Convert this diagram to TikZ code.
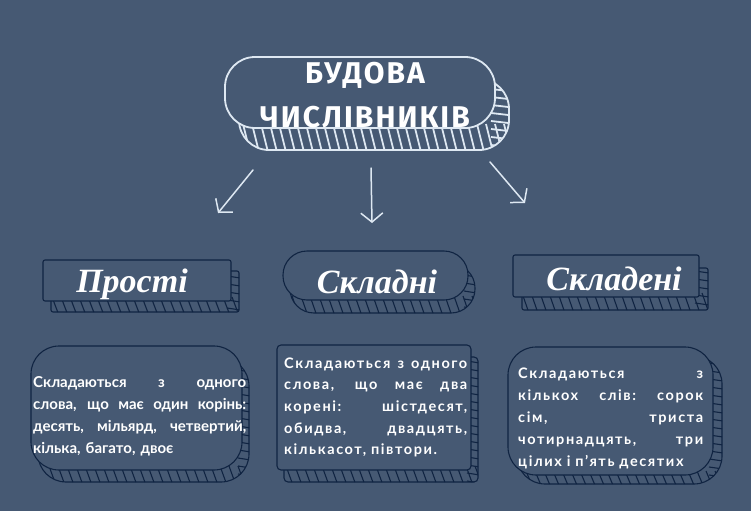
\documentclass[tikz,border=0pt]{standalone}
\usepackage{fontspec}
\setmainfont{Lato}
\newfontfamily\titlefont[LetterSpace=7]{Fira Sans}
\newfontfamily\headfont{Liberation Serif}
\newfontfamily\widefont[LetterSpace=11]{Lato}
\usetikzlibrary{arrows.meta}
\definecolor{boardBg}{RGB}{70,89,115}
\definecolor{chalk}{RGB}{222,232,242}
\definecolor{ink}{RGB}{16,36,66}
\tikzset{
  chalkArrow/.style={%
    draw=chalk, line width=1.5pt, line cap=round,
    -{Straight Barb[length=9pt,width=22pt]},
  },
  titleNode/.style={text=white, anchor=base, inner sep=0pt,
    font=\titlefont\bfseries\fontsize{30}{32}\selectfont},
  headNode/.style={text=white, anchor=base, inner sep=0pt,
    font=\headfont\bfseries\itshape\fontsize{34}{36}\selectfont},
  bodyNode/.style={text=white, anchor=base west, inner sep=0pt, align=left},
}
% box with a hatched side, front corner at (#2,#3)-(#4,#5), shifted back by (#6,#7)
\newcommand{\slabbox}[7]{%
  \draw[rounded corners=#1] (#2+#6,#3+#7) rectangle (#4+#6,#5+#7);
  \begin{scope}
    \clip[rounded corners=#1] (#2+#6,#3+#7) rectangle (#4+#6,#5+#7);
    \foreach \t in {0,...,40}
      \draw ({#2+9*\t},#5-4) -- ++(8,#7+10);
    \foreach \t in {0,...,20}
      \draw (#4-4,{#3+8*\t}) -- ++(#6+12,3);
  \end{scope}
  \fill[boardBg,rounded corners=#1] (#2,#3) rectangle (#4,#5);
  \draw[rounded corners=#1] (#2,#3) rectangle (#4,#5);
}
\newcommand{\spread}[1]{\makebox[\hsize][s]{%
  \spaceskip=.3em plus 1fil\xspaceskip=\spaceskip\relax #1}}

\begin{document}
\begin{tikzpicture}[x=1pt,y=-1pt]
  \fill[boardBg] (0,0) rectangle (751,511);
  \useasboundingbox (0,0) rectangle (751,511);

  % title
  \begin{scope}[draw=chalk,line width=1.8pt]
    \slabbox{30}{225}{57}{495}{128}{14}{22}
  \end{scope}
  \node[titleNode] (title1) at (365,83) {БУДОВА};
  \node[titleNode] (title2) at (365,127) {ЧИСЛІВНИКІВ};

  % arrows
  \coordinate (arrL0) at (253,170);
  \coordinate (arrL1) at (218,213);
  \coordinate (arrM0) at (371,168);
  \coordinate (arrM1) at (372,223);
  \coordinate (arrR0) at (490,162);
  \coordinate (arrR1) at (525,203);
  \draw[chalkArrow] (arrL0) -- (arrL1);
  \draw[chalkArrow] (arrM0) -- (arrM1);
  \draw[chalkArrow] (arrR0) -- (arrR1);

  % heads
  \begin{scope}[draw=ink,line width=1.1pt]
    \slabbox{2}{43}{260}{231}{301}{8}{11}
    \slabbox{24}{283}{251}{468}{300}{7}{13}
    \slabbox{2}{513}{255}{699}{297}{9}{13}
  \end{scope}
  \node[headNode] (prosti) at (132,292) {Прості};
  \node[headNode] (skladni) at (377,293) {Складні};
  \node[headNode] (skladeni) at (614,290) {Складені};

  % texts
  \begin{scope}[draw=ink,line width=1.1pt]
    \slabbox{28}{31}{346}{242}{470}{7}{12}
    \slabbox{4}{277}{345}{471}{470}{7}{12}
    \slabbox{28}{508}{347}{713}{475}{9}{9}
  \end{scope}
  \node[bodyNode,text width=213pt,font=\bfseries\fontsize{15}{22}\selectfont]
    (prostiText) at (33,387) {%
    \spread{Складаються з одного}\\
    \spread{слова, що має один корінь:}\\
    \spread{десять, мільярд, четвертий,}\\
    кілька, багато, двоє};
  \node[bodyNode,text width=183pt,font=\widefont\bfseries\fontsize{14.5}{21.7}\selectfont]
    (skladniText) at (284,368) {%
    \spread{Складаються з одного}\\
    \spread{слова, що має два}\\
    \spread{корені: шістдесят,}\\
    \spread{обидва, двадцять,}\\
    кількасот, півтори.};
  \node[bodyNode,text width=185pt,font=\widefont\bfseries\fontsize{14.5}{22.2}\selectfont]
    (skladeniText) at (518,378) {%
    \spread{Складаються з}\\
    \spread{кількох слів: сорок}\\
    \spread{сім, триста}\\
    \spread{чотирнадцять, три}\\
    цілих і п’ять десятих};
\end{tikzpicture}
\end{document}
